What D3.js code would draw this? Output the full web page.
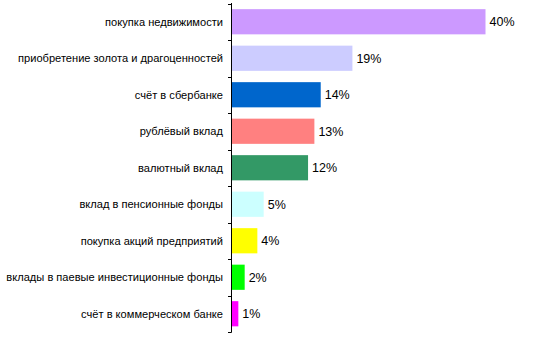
<!DOCTYPE html>
<html><head><meta charset="utf-8">
<script src="https://cdn.jsdelivr.net/npm/d3@7"></script>
<style>html,body{margin:0;padding:0;background:#fff;}svg{display:block;}</style>
</head><body>
<script>
const categories = ["покупка недвижимости","приобретение золота и драгоценностей","счёт в сбербанке","рублёвый вклад","валютный вклад","вклад в пенсионные фонды","покупка акций предприятий","вклады в паевые инвестиционные фонды","счёт в коммерческом банке"];
const values = [40,19,14,13,12,5,4,2,1];
const colors = ["#CC99FF","#CCCCFF","#0066CC","#FF8080","#339966","#CCFFFF","#FFFF00","#00FF00","#FF00FF"];
const valueLabels = ["40%","19%","14%","13%","12%","5%","4%","2%","1%"];

const W=550,H=341;
const svg=d3.select("body").append("svg").attr("width",W).attr("height",H);
const x=d3.scaleLinear().domain([0,40]).range([232,485.5]);
const y=d3.scaleBand().domain(categories).range([3.5,332]).paddingInner(0.31).paddingOuter(0.155);

svg.selectAll("rect.bar").data(categories).join("rect").attr("class","bar")
 .attr("x",x(0)).attr("y",d=>y(d)).attr("width",(d,i)=>x(values[i])-x(0)).attr("height",y.bandwidth())
 .attr("fill",(d,i)=>colors[i]);

const step=y.step();
const tickPos=d3.range(categories.length+1).map(i=>3.5+i*step);
svg.append("line").attr("x1",231.5).attr("x2",231.5).attr("y1",3).attr("y2",332.5).attr("stroke","#000").attr("stroke-width",1);
svg.selectAll("line.tick").data(tickPos).join("line").attr("class","tick")
 .attr("x1",228).attr("x2",231.5).attr("y1",d=>Math.round(d)+0.5).attr("y2",d=>Math.round(d)+0.5).attr("stroke","#000");

svg.selectAll("text.cat").data(categories).join("text").attr("class","cat")
 .attr("x",223).attr("y",d=>y(d)+y.bandwidth()/2).attr("dy","0.35em").attr("text-anchor","end")
 .attr("font-family","Liberation Sans, Arial, sans-serif").attr("font-size",11.1).attr("fill","#000").text(d=>d);

svg.selectAll("text.val").data(categories).join("text").attr("class","val")
 .attr("x",(d,i)=>x(values[i])+4).attr("y",d=>y(d)+y.bandwidth()/2).attr("dy","0.35em")
 .attr("font-family","Liberation Sans, Arial, sans-serif").attr("font-size",12.5).attr("fill","#000").text((d,i)=>valueLabels[i]);
</script>
</body></html>
